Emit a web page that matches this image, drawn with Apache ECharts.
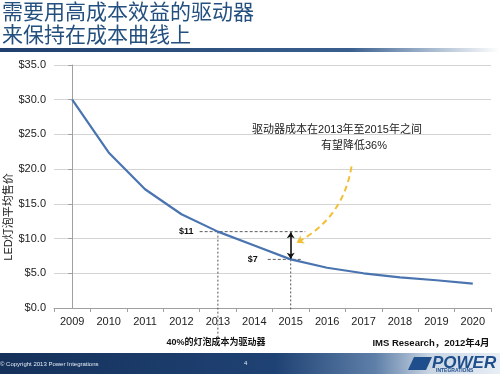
<!DOCTYPE html>
<html>
<head>
<meta charset="utf-8">
<script src="https://cdn.jsdelivr.net/npm/echarts@6/dist/echarts.min.js"></script>
<style>
html,body{margin:0;padding:0;background:#fff;}
#c{width:500px;height:374px;}
</style>
</head>
<body>
<div id="c"></div>
<script>
// ---- data ----
var years = ['2009','2010','2011','2012','2013','2014','2015','2016','2017','2018','2019','2020'];
var avgPrice = [30.0, 22.4, 17.1, 13.5, 11.0, 9.0, 7.0, 5.8, 5.0, 4.4, 4.0, 3.5];
var yTicks = [0, 5, 10, 15, 20, 25, 30, 35];
var price2013 = 11;
var price2015 = 7;
var idx2013 = 4;
var idx2015 = 6;
var titleLines = ['需要用高成本效益的驱动器', '来保持在成本曲线上'];
var yAxisName = 'LED灯泡平均售价';
var noteLines = ['驱动器成本在2013年至2015年之间', '有望降低36%'];
var footNote = '40%的灯泡成本为驱动器';
var sourceNote = 'IMS Research，2012年4月';

var FONT = '"Liberation Sans","Noto Sans CJK SC",Arial,sans-serif';
var CJK = '"Noto Sans CJK SC","Liberation Sans",sans-serif';

var chart = echarts.init(document.getElementById('c'), null, {renderer:'canvas'});
var option = {
  animation: false,
  backgroundColor: '#fff',
  grid: {left: 54, right: 9, top: 65, bottom: 66, containLabel: false},
  xAxis: [{
    type: 'category',
    data: years,
    boundaryGap: true,
    axisLine: {show: true, lineStyle: {color: '#a0a0a0', width: 1}},
    axisTick: {show: true, length: 4, lineStyle: {color: '#a0a0a0'}},
    axisLabel: {color: '#222', fontSize: 11, fontFamily: FONT, margin: 8},
    splitLine: {show: false}
  }, {
    type: 'value',
    min: -0.5,
    max: 11.5,
    show: false
  }],
  yAxis: {
    type: 'value',
    min: yTicks[0],
    max: yTicks[yTicks.length - 1],
    interval: 5,
    axisLine: {show: true, lineStyle: {color: '#a0a0a0', width: 1}},
    axisTick: {show: true, length: 4, lineStyle: {color: '#a0a0a0'}},
    axisLabel: {color: '#222', fontSize: 11, fontFamily: FONT, margin: 8,
      formatter: function (v) { return '$' + v.toFixed(1); }},
    splitLine: {show: true, lineStyle: {color: '#d4d4d4', width: 1}}
  },
  series: [
    {
      name: 'price',
      type: 'line',
      xAxisIndex: 0,
      data: avgPrice,
      symbol: 'none',
      smooth: false,
      lineStyle: {color: '#4a74b0', width: 2.2},
      z: 5
    },
    {
      type: 'line', xAxisIndex: 1, silent: true, symbol: 'circle', symbolSize: 0.1, showSymbol: true,
      lineStyle: {color: '#333', width: 0.8, type: [3, 2]},
      itemStyle: {color: '#333'},
      data: [
        {value: [idx2013 - 0.5, price2013], label: {show: true, position: 'left', distance: 6,
          formatter: '$' + price2013, fontSize: 9, fontWeight: 'bold', color: '#111', fontFamily: FONT}},
        {value: [idx2015 + 0.4, price2013]}
      ],
      z: 3
    },
    {
      type: 'line', xAxisIndex: 1, silent: true, symbol: 'circle', symbolSize: 0.1, showSymbol: true,
      lineStyle: {color: '#333', width: 0.8, type: [3, 2]},
      itemStyle: {color: '#333'},
      data: [
        {value: [idx2015 - 0.63, price2015], label: {show: true, position: 'left', distance: 10,
          formatter: '$' + price2015, fontSize: 9, fontWeight: 'bold', color: '#111', fontFamily: FONT}},
        {value: [idx2015 + 0.33, price2015]}
      ],
      z: 3
    },
    {
      type: 'line', xAxisIndex: 1, silent: true, symbol: 'none', clip: false,
      lineStyle: {color: '#555', width: 1, type: [2, 2]},
      data: [[idx2013, price2013], [idx2013, -4.2]],
      z: 3
    },
    {
      type: 'line', xAxisIndex: 1, silent: true, symbol: 'none', clip: false,
      lineStyle: {color: '#555', width: 1, type: [2, 2]},
      data: [[idx2015, price2015], [idx2015, -0.4]],
      z: 3
    },
    {
      type: 'lines', coordinateSystem: 'cartesian2d', xAxisIndex: 1, silent: true,
      symbol: ['arrow', 'arrow'], symbolSize: 6,
      lineStyle: {color: '#111', width: 1.6, opacity: 1, curveness: 0},
      data: [{coords: [[idx2015, price2013 - 0.1], [idx2015, price2015 + 0.1]]}],
      z: 6
    },
    {
      type: 'lines', coordinateSystem: 'cartesian2d', xAxisIndex: 1, silent: true,
      symbol: ['none', 'arrow'], symbolSize: 7,
      lineStyle: {color: '#f2c037', width: 2, opacity: 1, curveness: 0.25, type: [6, 4]},
      data: [{coords: [[7.67, 20.4], [6.16, 9.4]]}],
      z: 6
    }
  ],
  graphic: [
    {type: 'text', left: 2, top: 1, style: {text: titleLines[0], font: '21px ' + CJK, fill: '#24507f'}},
    {type: 'text', left: 2, top: 24, style: {text: titleLines[1], font: '21px ' + CJK, fill: '#24507f'}},
    {type: 'rect', shape: {x: 0, y: 48, width: 500, height: 4},
      style: {fill: new echarts.graphic.LinearGradient(0, 0, 1, 0, [
        {offset: 0, color: '#1f3f6e'}, {offset: 0.7, color: '#3a5f8e'}, {offset: 0.85, color: '#9fb3cb'}, {offset: 1, color: '#ffffff'}])}},
    {type: 'text', x: 9, y: 217, rotation: Math.PI / 2,
      style: {text: yAxisName, font: '11px ' + FONT, fill: '#222', align: 'center', verticalAlign: 'middle'}},
    {type: 'text', x: 337, y: 130, style: {text: noteLines[0], font: '11px ' + FONT, fill: '#222', align: 'center', verticalAlign: 'middle'}},
    {type: 'text', x: 354, y: 146, style: {text: noteLines[1], font: '11px ' + FONT, fill: '#222', align: 'center', verticalAlign: 'middle'}},
    {type: 'text', x: 216, y: 343, style: {text: footNote, font: 'bold 9px ' + FONT, fill: '#111', align: 'center', verticalAlign: 'middle'}},
    {type: 'text', x: 431, y: 343, style: {text: sourceNote, font: 'bold 9.5px ' + FONT, fill: '#111', align: 'center', verticalAlign: 'middle'}},
    {type: 'rect', shape: {x: 0, y: 353, width: 500, height: 21},
      style: {fill: new echarts.graphic.LinearGradient(0, 0, 1, 0, [
        {offset: 0, color: '#15315a'}, {offset: 0.55, color: '#1f4274'}, {offset: 0.75, color: '#5e7fa8'}, {offset: 0.86, color: '#c9d5e3'}, {offset: 1, color: '#e8eef5'}])}},
    {type: 'text', x: 0, y: 364, style: {text: '© Copyright 2013 Power Integrations', font: '6px ' + FONT, fill: '#e6ecf4', verticalAlign: 'middle'}},
    {type: 'text', x: 244, y: 363, style: {text: '4', font: '6px ' + FONT, fill: '#e6ecf4', verticalAlign: 'middle'}},
    {type: 'text', x: 432, y: 363, style: {text: 'POWER', font: 'italic bold 17px ' + FONT, fill: '#1f4e8c', verticalAlign: 'middle'}},
    {type: 'text', x: 436, y: 373, style: {text: 'INTEGRATIONS', font: 'bold 5px ' + FONT, fill: '#1f4e8c', verticalAlign: 'bottom'}},
    {type: 'polygon', shape: {points: [[408, 370], [414, 357], [432, 357], [426, 370]]}, style: {fill: '#1f4e8c'}}
  ]
};
chart.setOption(option);
</script>
</body>
</html>
